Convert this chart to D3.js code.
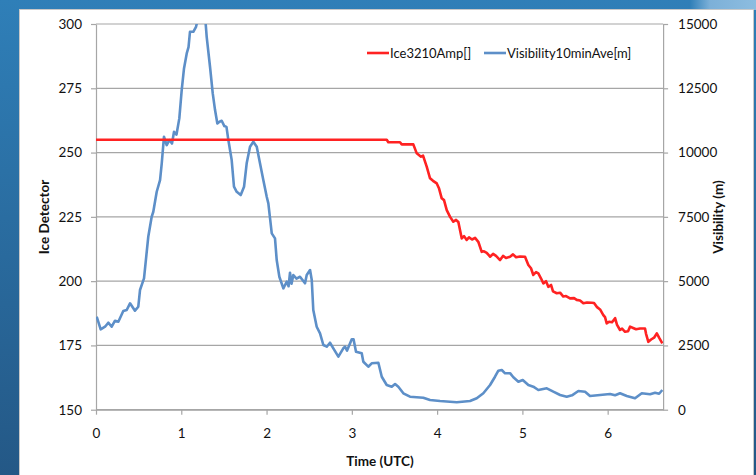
<!DOCTYPE html>
<html><head><meta charset="utf-8">
<script src="https://cdn.jsdelivr.net/npm/d3@7"></script>
<style>body{margin:0;background:#fff}svg{display:block}text{font-family:Lato,"Open Sans",sans-serif}</style>
</head><body><svg id="c" width="756" height="475"></svg>
<script>
// ---- data ----
const iceTime = [0,3.409,3.428,3.565,3.585,3.721,3.761,3.811,3.835,3.878,3.917,3.952,3.996,4.023,4.054,4.081,4.113,4.152,4.190,4.222,4.249,4.289,4.316,4.347,4.374,4.410,4.445,4.483,4.523,4.550,4.582,4.621,4.656,4.691,4.738,4.773,4.808,4.855,4.890,4.926,4.972,5.031,5.070,5.101,5.128,5.160,5.187,5.219,5.246,5.277,5.304,5.336,5.359,5.403,5.442,5.480,5.512,5.559,5.606,5.637,5.676,5.715,5.758,5.813,5.840,5.872,5.911,5.949,5.969,5.989,6.016,6.051,6.087,6.110,6.145,6.169,6.204,6.239,6.263,6.298,6.333,6.380,6.438,6.450,6.477,6.509,6.544,6.576,6.603,6.641];
const iceAmp = [255,255,254,254,253.2,253.2,249.7,248.4,248.8,244.5,240,239,238,236,232.2,231.5,227.6,225,223.1,223.8,223,216.6,217.5,216,217,216.2,216.8,215.3,211.4,211.6,211,209.5,210.6,209.8,208.2,209.8,209,209.5,210.4,209.3,209.6,209.5,206.3,205,202.4,203.5,203,201,199.1,200,197.8,198.5,196,195.3,195.5,194,194.2,193.3,193.4,192.7,192.5,191.4,191.7,191.6,191.5,190,189,186.8,186,183.6,184.2,184,185.6,183,181,181.5,180.3,180.5,182.3,181.8,181.3,181.6,181.6,179.5,176.4,177.3,178,179.7,178,175.8];
const visTime = [0.008,0.055,0.106,0.144,0.184,0.223,0.262,0.320,0.360,0.399,0.457,0.496,0.516,0.563,0.613,0.653,0.672,0.712,0.751,0.771,0.797,0.829,0.860,0.891,0.915,0.944,0.977,1.005,1.032,1.064,1.085,1.102,1.141,1.173,1.188,1.220,1.255,1.284,1.298,1.337,1.369,1.396,1.423,1.448,1.474,1.505,1.530,1.552,1.591,1.618,1.650,1.697,1.736,1.767,1.806,1.845,1.885,1.923,1.962,2.002,2.021,2.061,2.099,2.119,2.150,2.197,2.236,2.258,2.275,2.293,2.314,2.351,2.392,2.451,2.471,2.510,2.530,2.548,2.588,2.627,2.666,2.706,2.744,2.783,2.842,2.900,2.920,2.944,2.999,3.020,3.049,3.116,3.135,3.193,3.233,3.311,3.351,3.409,3.468,3.507,3.545,3.604,3.682,3.838,3.917,4.034,4.230,4.386,4.465,4.542,4.621,4.679,4.718,4.758,4.797,4.855,4.894,4.953,5.004,5.070,5.128,5.187,5.286,5.363,5.442,5.520,5.582,5.656,5.735,5.793,5.911,6.028,6.087,6.145,6.224,6.321,6.400,6.497,6.556,6.603,6.641];
const visValue = [3616,3126,3227,3383,3227,3460,3421,3838,3877,4137,3850,4005,4654,5109,6726,7504,7698,8476,8931,9580,10614,10292,10486,10350,10809,10700,11329,12430,13273,13856,14100,14697,14697,14891,15100,15600,15600,15100,14503,13337,12300,11652,11134,11200,11236,11030,11000,10486,9708,8671,8476,8348,8671,9580,10226,10420,10226,9580,8931,8282,8025,6858,6664,5820,5171,4720,4977,4800,5327,4900,5237,5100,5171,4915,5237,5431,5043,3877,3227,2970,2516,2450,2605,2388,2061,2388,2450,2300,2737,2737,2255,2193,1866,1672,1804,1827,1283,960,894,999,894,638,505,467,377,338,288,338,443,638,960,1283,1516,1544,1415,1420,1260,1089,1155,960,894,766,832,700,572,505,560,727,700,533,572,611,560,638,533,443,638,599,661,620,766];
const xTicks = [0,1,2,3,4,5,6];
const leftTicks = [150,175,200,225,250,275,300];
const rightTicks = [0,2500,5000,7500,10000,12500,15000];
const seriesNames = ["Ice3210Amp[]","Visibility10minAve[m]"];
const seriesColors = ["#ff2222","#5d8fc8"];

const svg = d3.select("#c");
// slide background
const defs = svg.append("defs");
const g1 = defs.append("linearGradient").attr("id","bg").attr("x1",0).attr("y1",0).attr("x2",0).attr("y2",1);
g1.append("stop").attr("offset","0%").attr("stop-color","#2f7fb8");
g1.append("stop").attr("offset","100%").attr("stop-color","#245886");
const g2 = defs.append("linearGradient").attr("id","tr").attr("x1",0).attr("y1",0).attr("x2",1).attr("y2",0);
g2.append("stop").attr("offset","0%").attr("stop-color","#2f7fb8");
g2.append("stop").attr("offset","30%").attr("stop-color","#7cb0d8");
g2.append("stop").attr("offset","100%").attr("stop-color","#8dbde0");
svg.append("rect").attr("width",756).attr("height",475).attr("fill","url(#bg)");
svg.append("rect").attr("x",690).attr("y",0).attr("width",66).attr("height",10).attr("fill","url(#tr)");
svg.append("rect").attr("x",19.5).attr("y",9.5).attr("width",734).attr("height",470).attr("fill","#fff").attr("stroke","#c8c8c8");

const L=96, R=663.1, T=24, B=409.7;
const x = d3.scaleLinear().domain([0,6.65]).range([L,R]);
const yL = d3.scaleLinear().domain([150,300]).range([B,T]);
const yR = d3.scaleLinear().domain([0,15000]).range([B,T]);

// gridlines
svg.append("g").selectAll("line").data(leftTicks).join("line")
  .attr("x1",L).attr("x2",R).attr("y1",d=>yL(d)).attr("y2",d=>yL(d))
  .attr("stroke","#a6a6a6").attr("stroke-width",1.2);

function styleAxis(g){
  g.select(".domain").attr("stroke","#a6a6a6").attr("stroke-width",1.2);
  g.selectAll(".tick line").attr("stroke","#a6a6a6").attr("stroke-width",1.2);
  g.selectAll(".tick text").attr("fill","#111").style("font-size","13.5px").style("font-family","Lato");
}
svg.append("g").attr("transform",`translate(${L},0)`)
  .call(d3.axisLeft(yL).tickValues(leftTicks).tickSize(5).tickSizeOuter(0).tickPadding(9)).call(styleAxis);
svg.append("g").attr("transform",`translate(${R},0)`)
  .call(d3.axisRight(yR).tickValues(rightTicks).tickSize(5).tickSizeOuter(0).tickFormat(d3.format("d")).tickPadding(10)).call(styleAxis);
svg.append("g").attr("transform",`translate(0,${B})`)
  .call(d3.axisBottom(x).tickValues(xTicks).tickSize(5).tickSizeOuter(0).tickFormat(d3.format("d")).tickPadding(14)).call(styleAxis);

// clip
defs.append("clipPath").attr("id","plot").append("rect").attr("x",L).attr("y",T).attr("width",R-L).attr("height",B-T);
const iceData = iceTime.map((t,i)=>[t,iceAmp[i]]);
const visData = visTime.map((t,i)=>[t,visValue[i]]);
const lg = svg.append("g").attr("clip-path","url(#plot)");
lg.append("path").datum(visData).attr("fill","none").attr("stroke",seriesColors[1]).attr("stroke-width",2.6).attr("stroke-linejoin","round")
  .attr("d",d3.line().x(d=>x(d[0])).y(d=>yR(d[1])));
lg.append("path").datum(iceData).attr("fill","none").attr("stroke",seriesColors[0]).attr("stroke-width",2.6).attr("stroke-linejoin","round")
  .attr("d",d3.line().x(d=>x(d[0])).y(d=>yL(d[1])));

// legend
const legX=[367,484];
seriesNames.forEach((n,i)=>{
  svg.append("line").attr("x1",legX[i]).attr("x2",legX[i]+22).attr("y1",53).attr("y2",53).attr("stroke",seriesColors[i]).attr("stroke-width",2.6);
  svg.append("text").attr("x",legX[i]+23).attr("y",57.5).text(n).style("font-size","13px").attr("fill","#111");
});

// axis titles
svg.append("text").attr("transform","translate(49,217) rotate(-90)").attr("text-anchor","middle")
  .style("font-size","13.5px").style("font-weight","bold").attr("fill","#111").text("Ice Detector");
svg.append("text").attr("transform","translate(723,217) rotate(-90)").attr("text-anchor","middle")
  .style("font-size","13.5px").style("font-weight","bold").attr("fill","#111").text("Visibility (m)");
svg.append("text").attr("x",380).attr("y",466).attr("text-anchor","middle")
  .style("font-size","13.5px").style("font-weight","bold").attr("fill","#111").text("Time (UTC)");
</script></body></html>
